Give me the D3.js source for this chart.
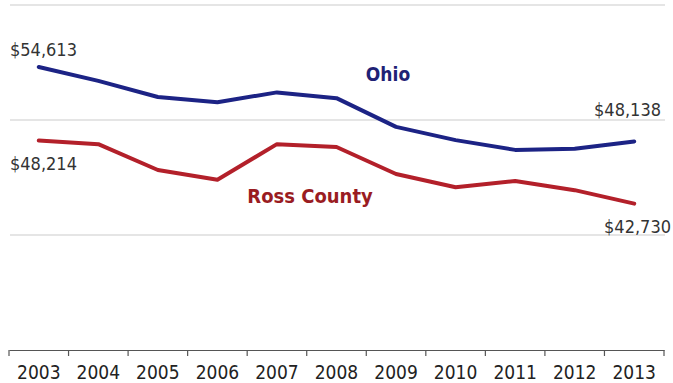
<!DOCTYPE html>
<html>
<head>
<meta charset="utf-8">
<script src="https://cdn.jsdelivr.net/npm/d3@7"></script>
<style>
  html, body { margin: 0; padding: 0; background: #fff; }
  svg { display: block; }
  text { font-family: "DejaVu Sans Condensed", "DejaVu Sans", sans-serif; }
</style>
</head>
<body>
<svg id="chart" width="673" height="383"></svg>
<script>
// Median household income, Ohio vs. Ross County
const years = ["2003","2004","2005","2006","2007","2008","2009","2010","2011","2012","2013"];
const ohioIncome = [54613, 53400, 52000, 51550, 52400, 51900, 49400, 48250, 47400, 47500, 48138];
const rossIncome = [48214, 47900, 45650, 44800, 47900, 47650, 45300, 44150, 44700, 43900, 42730];
const gridValues = [40000, 50000, 60000];

const svg = d3.select("#chart");
const x = d3.scaleBand().domain(years).range([9, 664]);
const y = d3.scaleLinear().domain([30000, 60000]).range([350, 5]);
const cx = d => x(d) + x.bandwidth() / 2;
const fmt = v => "$" + d3.format(",")(v);

// horizontal gridlines
svg.append("g").selectAll("line").data(gridValues).join("line")
  .attr("x1", 10).attr("x2", 665)
  .attr("y1", d => y(d)).attr("y2", d => y(d))
  .attr("stroke", "#dcdcdc").attr("stroke-width", 1.5);

// x axis with ticks on band edges
const axis = svg.append("g").attr("transform", "translate(0,350)")
  .call(d3.axisBottom(x).tickSize(0).tickPadding(16));
axis.select(".domain").attr("stroke", "#555").attr("stroke-width", 1.2);
axis.selectAll("text").attr("font-size", 19).attr("fill", "#222")
  .attr("font-family", "DejaVu Sans Condensed");
const edges = years.map(d => x(d)).concat([x.range()[1]]);
axis.append("g").selectAll("line").data(edges).join("line")
  .attr("x1", d => d).attr("x2", d => d).attr("y1", 0).attr("y2", 6)
  .attr("stroke", "#555").attr("stroke-width", 1.2);

// series lines
const line = d3.line().x((d, i) => cx(years[i])).y(d => y(d));
svg.append("path").datum(ohioIncome).attr("d", line)
  .attr("fill", "none").attr("stroke", "#1c2385").attr("stroke-width", 4)
  .attr("stroke-linejoin", "round").attr("stroke-linecap", "round");
svg.append("path").datum(rossIncome).attr("d", line)
  .attr("fill", "none").attr("stroke", "#b3202a").attr("stroke-width", 4)
  .attr("stroke-linejoin", "round").attr("stroke-linecap", "round");

// endpoint value labels
const last = years.length - 1;
const valueLabels = [
  { v: ohioIncome[0], x: 10, y: y(ohioIncome[0]) - 11, anchor: "start" },
  { v: ohioIncome[last], x: 661, y: y(ohioIncome[last]) - 25, anchor: "end" },
  { v: rossIncome[0], x: 10, y: y(rossIncome[0]) + 29, anchor: "start" },
  { v: rossIncome[last], x: 671, y: y(rossIncome[last]) + 29, anchor: "end" }
];
svg.append("g").selectAll("text").data(valueLabels).join("text")
  .attr("x", d => d.x).attr("y", d => d.y).attr("text-anchor", d => d.anchor)
  .attr("font-size", 18).attr("fill", "#333")
  .text(d => fmt(d.v));

// series names
svg.append("text").attr("x", 388).attr("y", 81).attr("text-anchor", "middle")
  .attr("font-size", 19).attr("font-weight", "bold").attr("fill", "#1e2275")
  .text("Ohio");
svg.append("text").attr("x", 310).attr("y", 203).attr("text-anchor", "middle")
  .attr("font-size", 20).attr("font-weight", "bold").attr("fill", "#9a1c22")
  .text("Ross County");
</script>
</body>
</html>
